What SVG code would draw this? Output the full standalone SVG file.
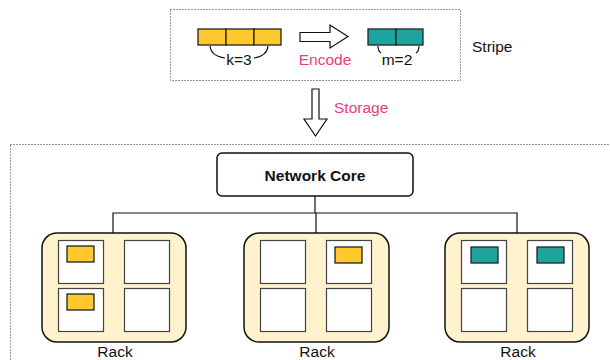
<svg xmlns="http://www.w3.org/2000/svg" width="610" height="360" viewBox="0 0 610 360">
<style>
text{font-family:"Liberation Sans",Arial,Helvetica,sans-serif;font-size:15.5px;fill:#111}
.pink{fill:#e8407c}
.dot{fill:none;stroke:#333;stroke-width:1;stroke-dasharray:1 2}
.y{fill:#ffc82c;stroke:#222;stroke-width:1.3}
.t{fill:#1fa39f;stroke:#222;stroke-width:1.3}
.rack{fill:#fff2cc;stroke:#111;stroke-width:1.5}
.sq{fill:#fff;stroke:#444;stroke-width:1.2}
.ln{fill:none;stroke:#111;stroke-width:1.2}
.arr{fill:#fff;stroke:#111;stroke-width:1.2}
</style>
<rect class="dot" x="170.5" y="9.5" width="290" height="71"/>
<rect class="dot" x="10.5" y="144.5" width="620" height="230"/>
<g id="stripe">
<rect class="y" x="198" y="29" width="28" height="16"/>
<rect class="y" x="226" y="29" width="28" height="16"/>
<rect class="y" x="254" y="29" width="27" height="16"/>
<path class="ln" d="M210,46 Q211,56 225,58 M268,46 Q267,56 254,58"/>
<text x="239" y="65" text-anchor="middle">k=3</text>
<path class="arr" d="M300,32.5 H330 V25 L348,36.5 L330,48 V41.5 H300 Z"/>
<text class="pink" x="325" y="65" text-anchor="middle">Encode</text>
<rect class="t" x="368" y="29" width="28" height="16"/>
<rect class="t" x="396" y="29" width="27" height="16"/>
<path class="ln" d="M378,46 Q378,51 381,53 M419,46 Q419,51 416,53"/>
<text x="397" y="65" text-anchor="middle">m=2</text>
<text x="472" y="52">Stripe</text>
</g>
<g id="storage-arrow">
<path class="arr" d="M312,89 H319 V119 H327 L315.5,136 L304,119 H312 Z"/>
<text class="pink" x="334" y="113">Storage</text>
</g>
<g id="connectors">
<path class="ln" d="M315,196 V213 M113,233 V213 H517 V233 M316,213 V233"/>
</g>
<g id="network-core">
<rect x="217" y="153" width="196" height="43" rx="5" fill="#fff" stroke="#111" stroke-width="1.5"/>
<text x="315" y="181" text-anchor="middle" font-weight="bold" font-size="18">Network Core</text>
</g>
<g id="rack1">
<rect class="rack" x="42" y="233" width="144" height="109" rx="15"/>
<rect class="sq" x="58.5" y="240.5" width="45" height="43"/>
<rect class="sq" x="124.5" y="240.5" width="45" height="43"/>
<rect class="sq" x="58.5" y="288.5" width="45" height="43"/>
<rect class="sq" x="124.5" y="288.5" width="45" height="43"/>
<rect class="y" x="67" y="246" width="27" height="16"/>
<rect class="y" x="67" y="294" width="27" height="16"/>
<text x="115" y="357" text-anchor="middle">Rack</text>
</g>
<g id="rack2">
<rect class="rack" x="244" y="233" width="145" height="109" rx="15"/>
<rect class="sq" x="260.5" y="240.5" width="45" height="43"/>
<rect class="sq" x="326.5" y="240.5" width="45" height="43"/>
<rect class="sq" x="260.5" y="288.5" width="45" height="43"/>
<rect class="sq" x="326.5" y="288.5" width="45" height="43"/>
<rect class="y" x="335" y="247" width="27" height="16"/>
<text x="317" y="357" text-anchor="middle">Rack</text>
</g>
<g id="rack3">
<rect class="rack" x="445" y="233" width="144" height="109" rx="15"/>
<rect class="sq" x="461.5" y="240.5" width="45" height="43"/>
<rect class="sq" x="527.5" y="240.5" width="45" height="43"/>
<rect class="sq" x="461.5" y="288.5" width="45" height="43"/>
<rect class="sq" x="527.5" y="288.5" width="45" height="43"/>
<rect class="t" x="471" y="247" width="27" height="16"/>
<rect class="t" x="537" y="247" width="27" height="16"/>
<text x="518" y="357" text-anchor="middle">Rack</text>
</g>
</svg>
